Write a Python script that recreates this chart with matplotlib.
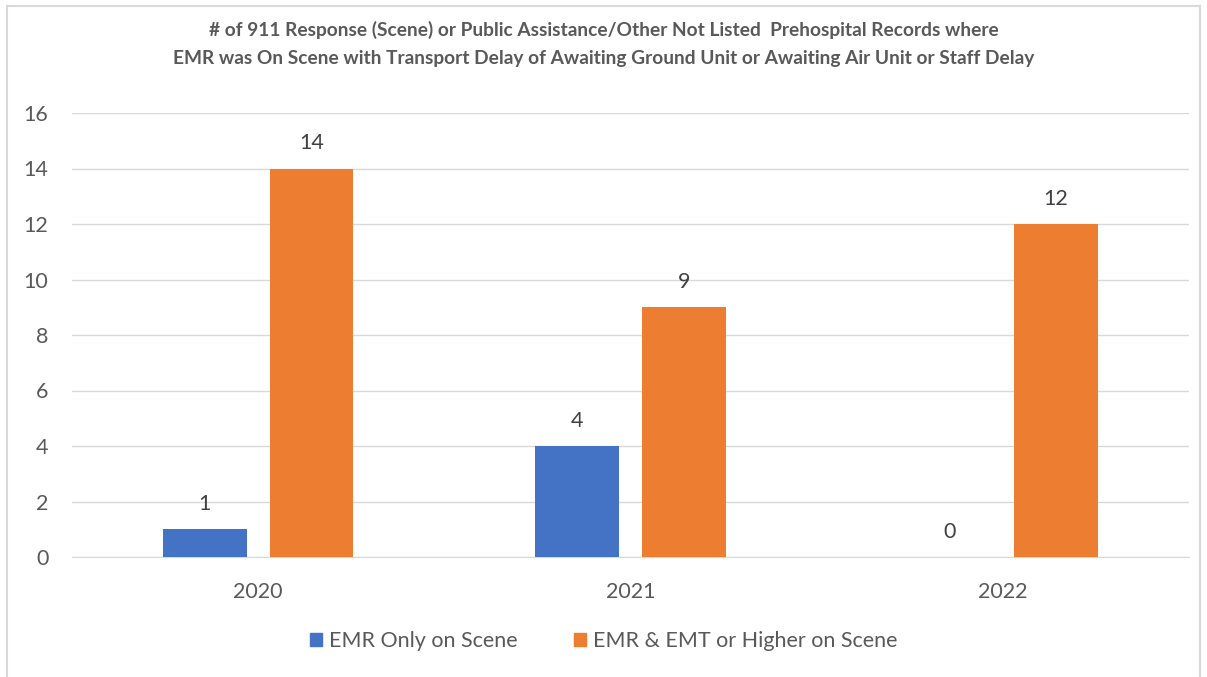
import numpy as np
import matplotlib.pyplot as plt
from matplotlib.lines import Line2D

years = ["2020", "2021", "2022"]
emr_only = [1, 4, 0]
emr_emt = [14, 9, 12]
series_names = ["EMR Only on Scene", "EMR & EMT or Higher on Scene"]
title = ("# of 911 Response (Scene) or Public Assistance/Other Not Listed  Prehospital Records where\n"
         "EMR was On Scene with Transport Delay of Awaiting Ground Unit or Awaiting Air Unit or Staff Delay")

plt.rcParams['font.family'] = ['Lato', 'DejaVu Sans']
txt = '#595959'

fig = plt.figure(figsize=(12.07, 6.77), dpi=100)
ax = fig.add_axes([72/1207, 1 - 557/677, (1189-72)/1207, (557-113)/677])

x = np.arange(len(years))
w = 0.225
off = 0.143
b1 = ax.bar(x - off, emr_only, w, color='#4472C4', label=series_names[0], zorder=3)
b2 = ax.bar(x + off, emr_emt, w, color='#ED7D31', label=series_names[1], zorder=3)

for bars, vals in [(b1, emr_only), (b2, emr_emt)]:
    for r, v in zip(bars, vals):
        ax.text(r.get_x() + r.get_width()/2, v + 0.55, str(v), ha='center', va='bottom',
                fontsize=15.5, color='#404040')

ax.set_xlim(-0.5, 2.5)
ax.set_ylim(0, 16)
ax.set_yticks(range(0, 17, 2))
ax.set_xticks(x)
ax.set_xticklabels(years)
ax.tick_params(length=0, labelsize=15.5, labelcolor=txt)
ax.tick_params(axis='y', pad=17)
ax.tick_params(axis='x', pad=18)
ax.yaxis.grid(True, color='#D9D9D9', lw=1, zorder=0)
for s in ['top', 'right', 'left']:
    ax.spines[s].set_visible(False)
ax.spines['bottom'].set_color('#D9D9D9')

fig.suptitle(title, y=1 - 21/677, va='top', fontsize=13.8, fontweight='bold', color=txt, linespacing=1.8)

handles = [plt.Rectangle((0, 0), 1, 1, color='#4472C4'), plt.Rectangle((0, 0), 1, 1, color='#ED7D31')]
fig.legend(handles, series_names, loc='center', bbox_to_anchor=(0.5, 1 - 641/677), ncol=2, frameon=False,
           fontsize=15.5, labelcolor=txt, handlelength=0.6, handleheight=0.6, handletextpad=0.3, columnspacing=2.6)

# outer chart border
bc = '#D9D9D9'
fig.add_artist(Line2D([7/1207, 1200/1207], [1 - 6/677, 1 - 6/677], color=bc, lw=1.5))
fig.add_artist(Line2D([7/1207, 7/1207], [0, 1 - 6/677], color=bc, lw=1.5))
fig.add_artist(Line2D([1200/1207, 1200/1207], [0, 1 - 6/677], color=bc, lw=1.5))

fig.savefig('out.png', dpi=100)
